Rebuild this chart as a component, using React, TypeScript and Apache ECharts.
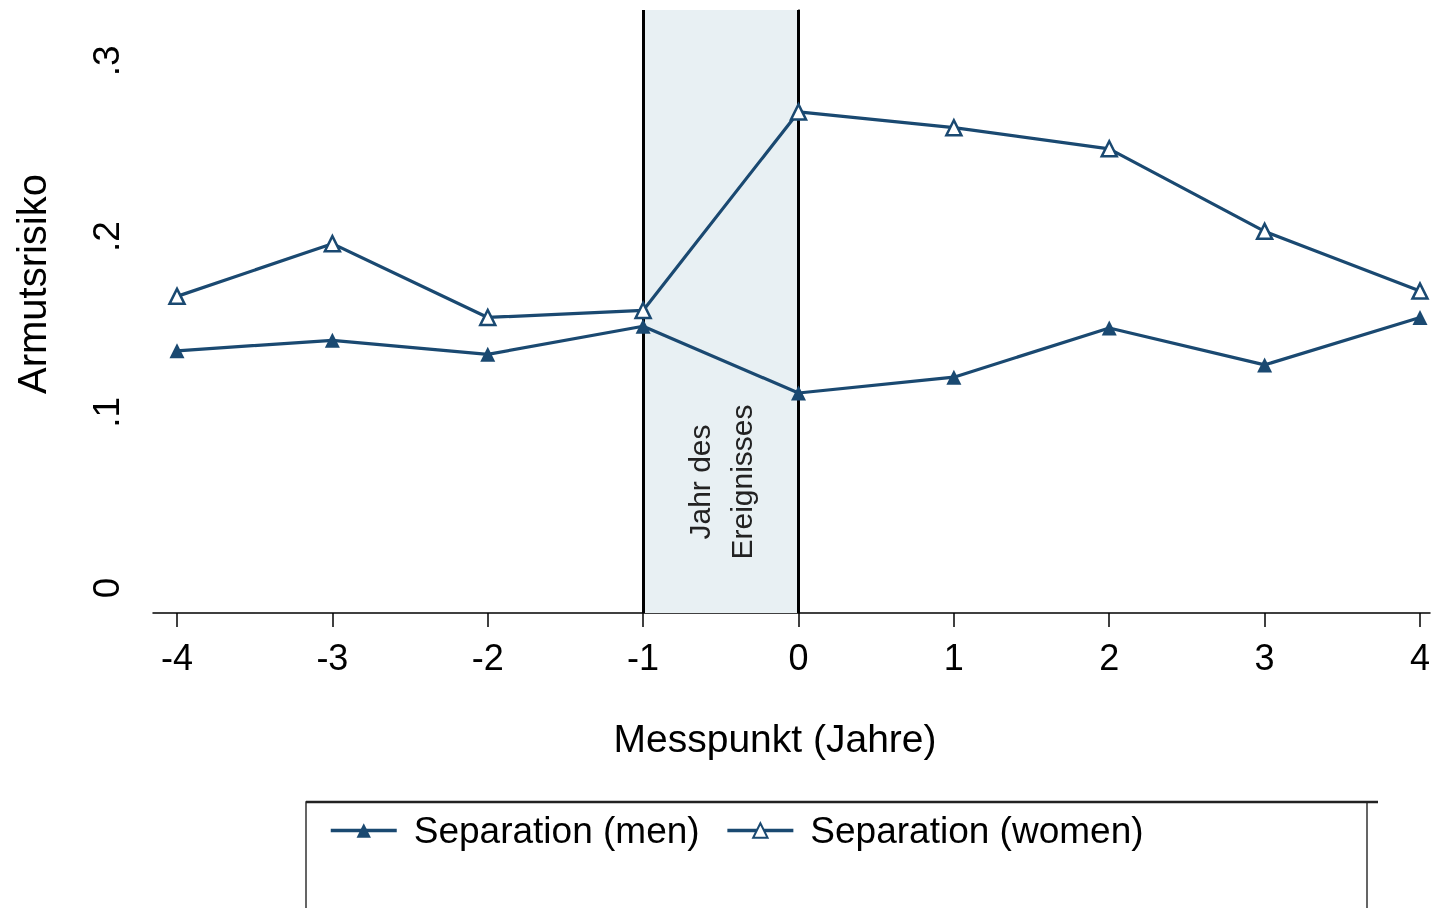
import { useEffect, useRef } from "react";
import * as echarts from "echarts";

const years = [-4, -3, -2, -1, 0, 1, 2, 3, 4];
const men = [0.135, 0.141, 0.133, 0.149, 0.111, 0.12, 0.148, 0.127, 0.154];
const women = [0.166, 0.196, 0.154, 0.158, 0.271, 0.262, 0.25, 0.203, 0.169];
const yTicks = [0, 0.1, 0.2, 0.3];
const yTickLabels = ["0", ".1", ".2", ".3"];
const eventRange = [-1, 0];
const seriesNames = ["Separation (men)", "Separation (women)"];

const NAVY = "#1a4971";
const FONT = "Liberation Sans, Arial, sans-serif";

export default function App() {
  const ref = useRef<HTMLDivElement>(null);
  useEffect(() => {
    const chart = echarts.init(ref.current!, null, { renderer: "svg" });
    const fmtY = (v: number) => {
      const i = yTicks.findIndex((t) => Math.abs(t - v) < 1e-9);
      return i >= 0 ? yTickLabels[i] : "";
    };
    chart.setOption({
      animation: false,
      grid: { left: 153, right: 3, top: 10, bottom: 295 },
      xAxis: {
        type: "value",
        min: -4.1545,
        max: 4.0644,
        axisLine: { show: true, onZero: false, lineStyle: { color: "#000", width: 1.5 } },
        axisTick: { show: true, customValues: years, length: 14, lineStyle: { color: "#000", width: 1.5 } },
        axisLabel: {
          customValues: years,
          formatter: (v: number) => String(v),
          fontSize: 36,
          fontFamily: FONT,
          color: "#000",
          margin: 26,
        },
        splitLine: { show: false },
      },
      yAxis: {
        type: "value",
        min: -0.01423,
        max: 0.329,
        axisLine: { show: true, lineStyle: { color: "#000", width: 1.5 } },
        axisTick: { show: true, customValues: yTicks, length: 14, lineStyle: { color: "#000", width: 1.5 } },
        axisLabel: {
          customValues: yTicks,
          formatter: fmtY,
          rotate: 90,
          fontSize: 37,
          fontFamily: FONT,
          color: "#000",
          margin: 28,
        },
        splitLine: { show: false },
      },
      legend: {
        left: 324,
        top: 807,
        itemWidth: 66,
        itemHeight: 18,
        itemGap: 26,
        lineStyle: { width: 3.5 },
        textStyle: { fontSize: 37, fontFamily: FONT, color: "#000", padding: [0, 0, 0, 12] },
        data: seriesNames,
      },
      series: [
        {
          name: seriesNames[0],
          type: "line",
          data: years.map((x, i) => [x, men[i]]),
          symbol: "triangle",
          symbolSize: 15,
          color: NAVY,
          lineStyle: { color: NAVY, width: 3.2 },
          itemStyle: { color: NAVY },
          z: 5,
          markArea: {
            silent: true,
            itemStyle: { color: "#e8f0f3" },
            data: [[{ xAxis: eventRange[0] }, { xAxis: eventRange[1] }]],
          },
          markLine: {
            silent: true,
            symbol: "none",
            label: { show: false },
            lineStyle: { color: "#000", width: 3, type: "solid" },
            data: eventRange.map((x) => ({ xAxis: x })),
          },
        },
        {
          name: seriesNames[1],
          type: "line",
          data: years.map((x, i) => [x, women[i]]),
          symbol: "triangle",
          symbolSize: 15,
          color: NAVY,
          lineStyle: { color: NAVY, width: 3.2 },
          itemStyle: { color: "#fff", borderColor: NAVY, borderWidth: 2.5 },
          z: 6,
        },
      ],
      graphic: [
        {
          type: "text",
          x: 32,
          y: 284,
          rotation: Math.PI / 2,
          style: {
            text: "Armutsrisiko",
            font: `40px ${FONT}`,
            fill: "#000",
            textAlign: "center",
            textVerticalAlign: "middle",
          },
        },
        {
          type: "text",
          x: 775,
          y: 738,
          style: {
            text: "Messpunkt (Jahre)",
            font: `39px ${FONT}`,
            fill: "#000",
            textAlign: "center",
            textVerticalAlign: "middle",
          },
        },
        {
          type: "text",
          x: 720,
          y: 482,
          rotation: Math.PI / 2,
          z: 100,
          style: {
            text: "Jahr des\nEreignisses",
            font: `30px ${FONT}`,
            lineHeight: 42,
            fill: "#222",
            textAlign: "center",
            textVerticalAlign: "middle",
          },
        },
        {
          type: "rect",
          shape: { x: 306, y: 802, width: 1061, height: 130 },
          style: { fill: "none", stroke: "#333", lineWidth: 1.5 },
        },
        {
          type: "line",
          shape: { x1: 306, y1: 802, x2: 1378, y2: 802 },
          style: { stroke: "#222", lineWidth: 2.5 },
        },
      ],
    });
    return () => chart.dispose();
  }, []);
  return (
    <div
      ref={ref}
      style={{ position: "fixed", left: 0, top: 0, width: 1433, height: 908 }}
    />
  );
}
